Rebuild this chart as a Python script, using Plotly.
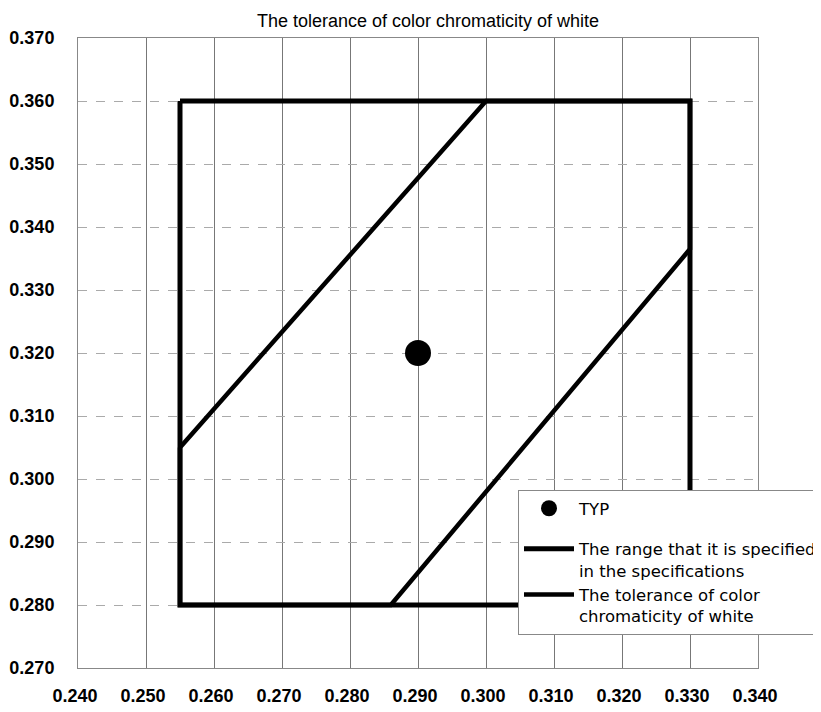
import plotly.graph_objects as go

# ---- data ----
typ_x = [0.290]
typ_y = [0.320]

spec_x = [0.255, 0.330, 0.330, 0.255, 0.255]
spec_y = [0.360, 0.360, 0.280, 0.280, 0.360]

tol_x = [0.255, 0.300, 0.330, 0.330, 0.286, 0.255, 0.255]
tol_y = [0.305, 0.360, 0.360, 0.3365, 0.280, 0.280, 0.305]

x_ticks = [0.240, 0.250, 0.260, 0.270, 0.280, 0.290, 0.300, 0.310, 0.320, 0.330, 0.340]
y_ticks = [0.270, 0.280, 0.290, 0.300, 0.310, 0.320, 0.330, 0.340, 0.350, 0.360, 0.370]

title_text = "The tolerance of color chromaticity of white"
name_typ = "TYP"
name_spec = "The range that it is specified<br>in the specifications"
name_tol = "The tolerance of color<br>chromaticity of white"

fig = go.Figure()
fig.add_trace(go.Scatter(
    x=spec_x, y=spec_y, mode="lines", name=name_spec,
    line=dict(color="black", width=5), legendgroup="b", legendrank=2,
))
fig.add_trace(go.Scatter(
    x=tol_x, y=tol_y, mode="lines", name=name_tol,
    line=dict(color="black", width=4.5), legendgroup="b", legendrank=3,
))
fig.add_trace(go.Scatter(
    x=typ_x, y=typ_y, mode="markers", name=name_typ,
    marker=dict(color="black", size=26), legendgroup="a", legendrank=1,
))

tickfont = dict(family="Liberation Sans, Arial, sans-serif", size=18, color="black", weight="bold")

W, H = 813, 704  # page has an 8px body margin
fig.update_layout(
    width=W, height=H,
    paper_bgcolor="white", plot_bgcolor="white",
    margin=dict(l=70, r=63, t=30, b=44, autoexpand=False),
    title=dict(text=title_text, x=(428 - 8) / W, xref="container", xanchor="center",
               y=1 - 13 / H, yref="container", yanchor="middle",
               font=dict(family="Liberation Sans, Arial, sans-serif", size=18, color="black")),
    xaxis=dict(range=[0.240, 0.340], tickvals=x_ticks, tickformat=".3f",
               showgrid=True, gridcolor="#777", gridwidth=1,
               showline=True, linecolor="#888", linewidth=1, mirror=True,
               zeroline=False, ticks="", tickfont=tickfont,
               ticklabelshift=-3, ticklabelstandoff=11),
    yaxis=dict(range=[0.270, 0.370], tickvals=y_ticks, tickformat=".3f",
               showgrid=True, gridcolor="#aaa", gridwidth=1, griddash="dash",
               showline=True, linecolor="#888", linewidth=1, mirror=True,
               zeroline=False, ticks="", tickfont=tickfont,
               ticklabelstandoff=19),
    legend=dict(x=(518 - 78) / 680, xanchor="left", y=(668 - 490) / 630, yanchor="top",
                bgcolor="white", bordercolor="#888", borderwidth=1,
                font=dict(family="DejaVu Sans, sans-serif", size=16.5, color="black"),
                itemwidth=50, valign="top", traceorder="grouped", tracegroupgap=16),
    showlegend=True,
)

fig.write_html("out.html")
